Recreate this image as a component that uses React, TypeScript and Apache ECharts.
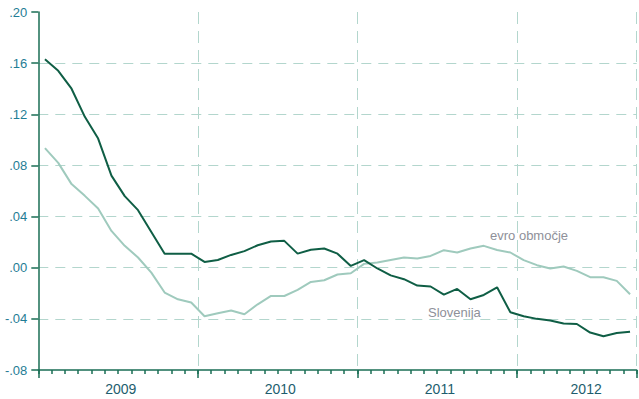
import React, { useEffect, useRef } from "react";
import * as echarts from "echarts";

const months: string[] = [];
for (let y = 2009; y <= 2012; y++) {
  for (let m = 1; m <= 12; m++) {
    if (y === 2012 && m > 9) break;
    months.push(`${y}-${String(m).padStart(2, "0")}`);
  }
}

const slovenia = [
  0.163, 0.154, 0.140, 0.118, 0.101, 0.072, 0.056, 0.045, 0.028, 0.011, 0.011, 0.011,
  0.0045, 0.006, 0.010, 0.013, 0.0176, 0.0205, 0.021, 0.011, 0.014, 0.015, 0.011, 0.0014,
  0.006, -0.0006, -0.006, -0.009, -0.014, -0.0147, -0.021, -0.0166, -0.0247, -0.0213, -0.0153, -0.0348,
  -0.038, -0.040, -0.0413, -0.0437, -0.044, -0.0507, -0.0536, -0.051, -0.050,
];

const euroArea = [
  0.0935, 0.082, 0.0654, 0.0562, 0.0463, 0.0288, 0.0171, 0.008, -0.0038, -0.0194, -0.0247, -0.0272,
  -0.038, -0.0356, -0.0335, -0.0364, -0.0286, -0.0221, -0.0221, -0.0174, -0.0111, -0.0098, -0.0053, -0.0043,
  0.003, 0.004, 0.0061, 0.008, 0.0072, 0.0092, 0.0137, 0.0119, 0.015, 0.0171, 0.0139, 0.0119,
  0.0059, 0.002, -0.0006, 0.0009, -0.0025, -0.0074, -0.0074, -0.0103, -0.0207,
];

const yearLabels = ["2009", "2010", "2011", "2012"];
const yearLabelIndex = [6, 18, 30, 41];

const seriesNames = ["Slovenija", "evro območje"];

const AXIS = "#1a6e55";
const GRID = "#b3d6cd";
const FONT = "'Liberation Sans', Arial, sans-serif";

export default function App() {
  const ref = useRef<HTMLDivElement>(null);
  useEffect(() => {
    if (!ref.current) return;
    const chart = echarts.init(ref.current, null, { renderer: "svg" });
    chart.setOption({
      animation: false,
      grid: { left: 38.3, right: 2.3, top: 12, bottom: 29, containLabel: false },
      xAxis: [
        {
          type: "category",
          data: months,
          boundaryGap: true,
          position: "bottom",
          axisLine: { show: true, onZero: false, lineStyle: { color: AXIS, width: 1.5 } },
          axisTick: { show: true, interval: 0, length: 4, lineStyle: { color: AXIS, width: 1.5 } },
          axisLabel: { show: false },
          splitLine: {
            show: true,
            interval: (idx: number) => idx % 12 === 0 && idx > 0,
            lineStyle: { color: GRID, type: [12, 7], width: 1 },
          },
        },
        {
          type: "category",
          data: months,
          boundaryGap: true,
          position: "bottom",
          axisLine: { show: false, onZero: false },
          axisTick: {
            show: true,
            interval: (idx: number) => idx % 12 === 0,
            length: 8,
            lineStyle: { color: AXIS, width: 1.5 },
          },
          axisLabel: {
            show: true,
            interval: (idx: number) => yearLabelIndex.indexOf(idx) >= 0,
            formatter: (_v: string, idx: number) => {
              const k = yearLabelIndex.indexOf(idx);
              return k >= 0 ? `{y|${yearLabels[k]}}` : "";
            },
            margin: 12,
            rich: {
              y: {
                color: "#1d5e6e",
                fontSize: 14,
                fontFamily: FONT,
                padding: [0, 8, 0, 0],
              },
            },
          },
          splitLine: { show: false },
        },
      ],
      yAxis: {
        type: "value",
        min: -0.08,
        max: 0.2,
        interval: 0.04,
        axisLine: { show: true, onZero: false, lineStyle: { color: AXIS, width: 1.5 } },
        axisTick: { show: true, length: 7, lineStyle: { color: AXIS, width: 1.5 } },
        axisLabel: {
          color: "#1f7d95",
          fontSize: 13,
          fontFamily: FONT,
          margin: 11,
          padding: [0, 0, 3, 0],
          formatter: (v: number) => v.toFixed(2).replace("0.", "."),
        },
        splitLine: {
          show: true,
          showMinLine: false,
          showMaxLine: false,
          lineStyle: { color: GRID, type: [10, 7], width: 1 },
        },
      },
      series: [
        {
          name: seriesNames[1],
          type: "line",
          data: euroArea,
          symbol: "none",
          lineStyle: { color: "#9fcabd", width: 2 },
          z: 2,
        },
        {
          name: seriesNames[0],
          type: "line",
          data: slovenia,
          symbol: "none",
          lineStyle: { color: "#0f5e45", width: 2 },
          z: 3,
        },
      ],
      graphic: [
        {
          type: "text",
          left: 490,
          top: 229,
          style: { text: seriesNames[1], fill: "#8e9099", fontSize: 13, fontFamily: FONT },
        },
        {
          type: "text",
          left: 428,
          top: 306,
          style: { text: seriesNames[0], fill: "#8e9099", fontSize: 13, fontFamily: FONT },
        },
      ],
    });
    return () => chart.dispose();
  }, []);
  return (
    <div
      ref={ref}
      style={{ position: "fixed", left: 0, top: 0, width: 639, height: 399, background: "#fff" }}
    />
  );
}
